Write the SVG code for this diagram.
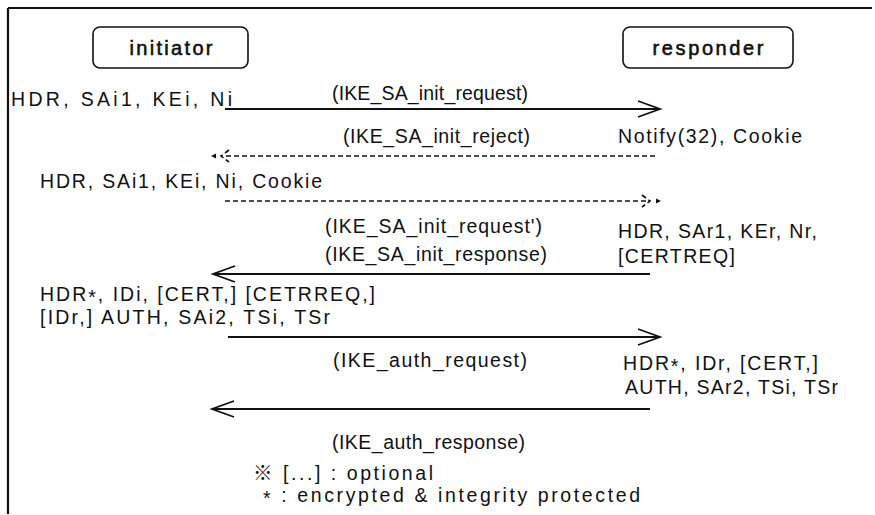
<svg xmlns="http://www.w3.org/2000/svg" width="875" height="515" viewBox="0 0 875 515">
<style>
text{font-family:"Liberation Sans",Arial,"Noto Sans CJK KR",sans-serif;font-size:19.5px;fill:#111}
.box{fill:#fff;stroke:#111;stroke-width:1.6}
.title{font-size:20px;text-anchor:middle;stroke:#111;stroke-width:0.6}
.ln{stroke:#111;stroke-width:1.8;fill:none}
.dash{stroke:#111;stroke-width:1.6;fill:none;stroke-dasharray:5 3}
.tip{fill:#111}
</style>
<rect width="875" height="515" fill="#fff"/>
<g id="frame">
<path d="M8,8 H872 M8,8 V514" stroke="#111" stroke-width="2.2" fill="none"/>
</g>
<g id="initiator">
<rect class="box" x="93" y="27" width="155" height="41" rx="7"/>
<text class="title" x="171" y="55" textLength="83" lengthAdjust="spacing">initiator</text>
</g>
<g id="responder">
<rect class="box" x="623" y="27" width="170" height="41" rx="7"/>
<text class="title" x="708" y="55" textLength="111" lengthAdjust="spacing">responder</text>
</g>
<g id="connectors">
<path class="ln" d="M225,109 H659 M638,101 L660,109 L638,117"/>
<path class="dash" d="M655,156 H226 M229,150 L221,156 L229,162"/>
<polygon class="tip" points="211,156 216,153.5 216,158.5"/>
<path class="dash" d="M225,201 H651 M642,195 L650,201 L642,207"/>
<polygon class="tip" points="661,201 656,198.5 656,203.5"/>
<path class="ln" d="M650,274 H214 M235,266 L213,274 L235,282"/>
<path class="ln" d="M228,337 H659 M638,329 L660,337 L638,345"/>
<path class="ln" d="M650,409 H213 M234,401 L212,409 L234,417"/>
</g>
<g id="labels">
<text x="11" y="106" textLength="221" lengthAdjust="spacing">HDR, SAi1, KEi, Ni</text>
<text x="332" y="100" textLength="196" lengthAdjust="spacing">(IKE_SA_init_request)</text>
<text x="343" y="143" textLength="187" lengthAdjust="spacing">(IKE_SA_init_reject)</text>
<text x="618" y="143" textLength="184" lengthAdjust="spacing">Notify(32), Cookie</text>
<text x="40" y="188" textLength="282" lengthAdjust="spacing">HDR, SAi1, KEi, Ni, Cookie</text>
<text x="325" y="233" textLength="217" lengthAdjust="spacing">(IKE_SA_init_request')</text>
<text x="618" y="238" textLength="199" lengthAdjust="spacing">HDR, SAr1, KEr, Nr,</text>
<text x="325" y="261" textLength="222" lengthAdjust="spacing">(IKE_SA_init_response)</text>
<text x="618" y="263" textLength="117" lengthAdjust="spacing">[CERTREQ]</text>
<text x="40" y="301" textLength="335" lengthAdjust="spacing">HDR<tspan dy="3">*</tspan><tspan dy="-3">, IDi, [CERT,] [CETRREQ,]</tspan></text>
<text x="40" y="324" textLength="290" lengthAdjust="spacing">[IDr,] AUTH, SAi2, TSi, TSr</text>
<text x="333" y="367" textLength="194" lengthAdjust="spacing">(IKE_auth_request)</text>
<text x="623" y="370" textLength="195" lengthAdjust="spacing">HDR<tspan dy="3">*</tspan><tspan dy="-3">, IDr, [CERT,]</tspan></text>
<text x="625" y="394" textLength="213" lengthAdjust="spacing">AUTH, SAr2, TSi, TSr</text>
<text x="332" y="449" textLength="193" lengthAdjust="spacing">(IKE_auth_response)</text>
<text x="253" y="480" textLength="180" lengthAdjust="spacing">※ [...] : optional</text>
<text x="263" y="502" textLength="377" lengthAdjust="spacing"><tspan dy="3">*</tspan><tspan dy="-3"> : encrypted &amp; integrity protected</tspan></text>
</g>
</svg>
